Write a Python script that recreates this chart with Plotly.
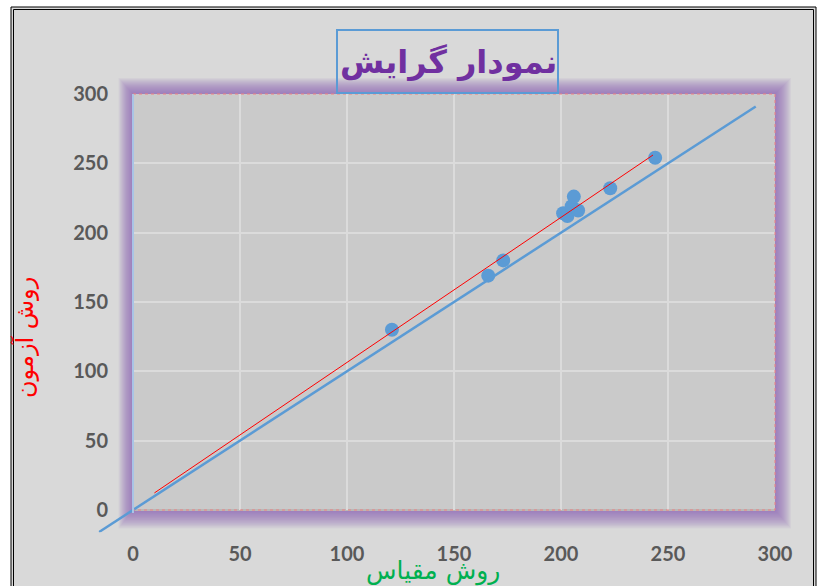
import plotly.graph_objects as go

# Paired measurements: scale method (x) vs. test method (y)
scale_method = [121, 166, 173, 201, 203, 205, 206, 208, 223, 244]
test_method = [130, 169, 180, 214, 212, 219, 226, 216, 232, 254]

# Linear trend line end points
trend_x = [10, 243]
trend_y = [12.3, 256]

# Identity reference line (y = x) end points
identity_x = [-16, 291]
identity_y = [-16, 291]

tick_vals = [0, 50, 100, 150, 200, 250, 300]
tick_text = ["0", "50", "100", "150", "200", "250", "300"]

W, H = 819, 586
# plot area in pixels
PX0, PX1 = 133, 775
PY0, PY1 = 94, 510


def px(x):
    return x / W


def py(y):
    return 1 - y / H


BLUE = "#5b9bd5"
TICK_FONT = dict(family="Lato, 'Open Sans', sans-serif", size=20,
                 color="#595959", weight="bold")

fig = go.Figure()

fig.add_trace(go.Scatter(
    x=scale_method, y=test_method, mode="markers",
    marker=dict(color=BLUE, size=14, line=dict(width=0)),
    xaxis="x", yaxis="y", showlegend=False, hoverinfo="skip",
))
fig.add_trace(go.Scatter(
    x=trend_x, y=trend_y, mode="lines",
    line=dict(color="#ff0000", width=1),
    xaxis="x", yaxis="y", showlegend=False, hoverinfo="skip",
))
# identity line lives on a companion axis pair that shares the main scale
# but reaches 16 units further down-left, past the plot frame
fig.add_trace(go.Scatter(
    x=identity_x, y=identity_y, mode="lines",
    line=dict(color=BLUE, width=2.5),
    xaxis="x2", yaxis="y2", showlegend=False, hoverinfo="skip",
))

ext = 16
ux = (PX1 - PX0) / 300.0
uy = (PY1 - PY0) / 300.0

shapes = []
# outer frame: white page, grey chart, double black border
shapes.append(dict(type="rect", xref="paper", yref="paper",
                   x0=px(11), x1=px(816), y0=py(7), y1=py(H + 10),
                   fillcolor="#d9d9d9", line=dict(color="#000000", width=1),
                   layer="below"))
shapes.append(dict(type="rect", xref="paper", yref="paper",
                   x0=px(13.5), x1=px(813.5), y0=py(9.5), y1=py(H + 10),
                   fillcolor="rgba(0,0,0,0)", line=dict(color="#000000", width=1),
                   layer="below"))
# soft purple glow around the plot area
for i in range(16, 0, -1):
    shapes.append(dict(type="rect", xref="paper", yref="paper",
                       x0=px(PX0 - i * 0.9), x1=px(PX1 + i),
                       y0=py(PY0 - i), y1=py(PY1 + i * 1.15),
                       fillcolor="rgba(140,95,185,0.065)", line=dict(width=0),
                       layer="below"))
# plot area fill
shapes.append(dict(type="rect", xref="paper", yref="paper",
                   x0=px(PX0), x1=px(PX1), y0=py(PY0), y1=py(PY1),
                   fillcolor="#cacaca", line=dict(width=0), layer="below"))
# dotted border on the plot area
shapes.append(dict(type="rect", xref="paper", yref="paper",
                   x0=px(PX0), x1=px(PX1), y0=py(PY0), y1=py(PY1),
                   fillcolor="rgba(0,0,0,0)",
                   line=dict(color="#f08080", width=1, dash="dot"), layer="above"))
# bottom edge and vertical axis line
shapes.append(dict(type="line", xref="paper", yref="paper",
                   x0=px(PX0), x1=px(PX1), y0=py(PY1), y1=py(PY1),
                   line=dict(color="#b8b8b8", width=2), layer="below"))
shapes.append(dict(type="line", xref="paper", yref="paper",
                   x0=px(PX0), x1=px(PX0), y0=py(PY0), y1=py(PY1 + 3),
                   line=dict(color="#a9c4e6", width=2), layer="above"))
# title box
shapes.append(dict(type="rect", xref="paper", yref="paper",
                   x0=px(337), x1=px(558), y0=py(30), y1=py(93),
                   fillcolor="rgba(0,0,0,0)", line=dict(color=BLUE, width=2),
                   layer="above"))

annotations = [
    dict(text="<b>نمودار گرایش</b>", xref="paper", yref="paper",
         x=px(448), y=py(62), xanchor="center", yanchor="middle", showarrow=False,
         font=dict(family="DejaVu Sans, sans-serif", size=32, color="#7030a0")),
    dict(text="روش آزمون", xref="paper", yref="paper",
         x=px(24), y=py(338), xanchor="center", yanchor="middle", showarrow=False,
         textangle=-90,
         font=dict(family="DejaVu Sans, sans-serif", size=24, color="#ff0000")),
    dict(text="روش مقیاس", xref="paper", yref="paper",
         x=px(433), y=py(571), xanchor="center", yanchor="middle", showarrow=False,
         font=dict(family="DejaVu Sans, sans-serif", size=25, color="#00b050")),
]

axis_common = dict(
    range=[0, 300], tickvals=tick_vals, ticktext=tick_text,
    showgrid=True, gridcolor="#dbdbdb", gridwidth=2,
    zeroline=False, showline=False, ticks="",
    tickfont=TICK_FONT, fixedrange=True, automargin=False,
)

fig.update_layout(
    width=W, height=H,
    margin=dict(l=0, r=0, t=0, b=0, pad=0),
    paper_bgcolor="#ffffff",
    plot_bgcolor="rgba(0,0,0,0)",
    xaxis=dict(domain=[px(PX0), px(PX1)], anchor="y",
               ticklabelstandoff=30, **axis_common),
    yaxis=dict(domain=[py(PY1), py(PY0)], anchor="x",
               ticklabelstandoff=24, **axis_common),
    xaxis2=dict(domain=[px(PX0 - ext * ux), px(PX1)], range=[-ext, 300],
                anchor="y2", visible=False, fixedrange=True, automargin=False),
    yaxis2=dict(domain=[py(PY1 + ext * uy), py(PY0)], range=[-ext, 300],
                anchor="x2", visible=False, fixedrange=True, automargin=False),
    shapes=shapes,
    annotations=annotations,
    showlegend=False,
)

fig.write_html(
    "out.html",
    config={"displayModeBar": False},
    post_script="document.body.style.margin='0';document.body.style.overflow='hidden';",
)
